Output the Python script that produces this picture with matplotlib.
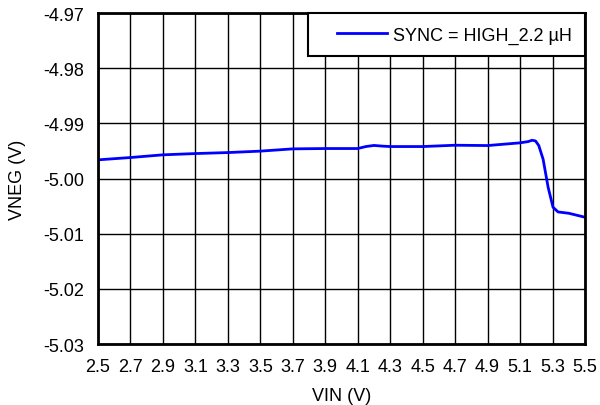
import matplotlib
matplotlib.use("Agg")
import matplotlib.pyplot as plt
from matplotlib.patches import Rectangle

vin = [2.5, 2.7, 2.9, 3.1, 3.3, 3.5, 3.7, 3.9, 4.1, 4.15, 4.2, 4.25, 4.3, 4.5, 4.7, 4.9, 5.1,
       5.15, 5.174, 5.195, 5.215, 5.242, 5.273, 5.303, 5.334, 5.4, 5.5]
vneg = [-4.99661, -4.99619, -4.99570, -4.99547, -4.99529, -4.99503, -4.99462, -4.99456,
        -4.99456, -4.99420, -4.99400, -4.99412, -4.99420, -4.99420, -4.99396, -4.99402, -4.99353,
        -4.99330, -4.99306, -4.99318, -4.99400, -4.99650, -5.00160, -5.00520, -5.00605,
        -5.00629, -5.00701]
series_label = "SYNC = HIGH_2.2 µH"
xticks = [2.5, 2.7, 2.9, 3.1, 3.3, 3.5, 3.7, 3.9, 4.1, 4.3, 4.5, 4.7, 4.9, 5.1, 5.3, 5.5]
yticks = [-5.03, -5.02, -5.01, -5.00, -4.99, -4.98, -4.97]

plt.rcParams['font.family'] = ['Liberation Sans', 'DejaVu Sans']

fig = plt.figure(figsize=(6.0, 4.06), dpi=100)
ax = fig.add_axes([0.1633, 0.150, 0.8117, 0.8155])
ax.plot(vin, vneg, color='#0000ff', linewidth=2, label=series_label)
ax.set_xlim(2.5, 5.5)
ax.set_ylim(-5.03, -4.97)
ax.set_xticks(xticks)
ax.set_xticklabels([f"{t:.1f}" for t in xticks])
ax.set_yticks(yticks)
ax.set_yticklabels([f"{t:.2f}" for t in yticks])
ax.tick_params(axis='x', length=0, labelsize=13, pad=10)
ax.tick_params(axis='y', length=0, labelsize=13, pad=10)
ax.grid(True, color='black', linewidth=1)
ax.set_axisbelow(True)
for s in ax.spines.values():
    s.set_linewidth(2)
ax.set_xlabel("VIN (V)", fontsize=13, labelpad=9)
ax.set_ylabel("VNEG (V)", fontsize=13, labelpad=12)

# legend frame (wider than its content, as in the reference)
box = Rectangle((0.431, 0.870), 0.569, 0.130, transform=ax.transAxes,
                facecolor='white', edgecolor='black', linewidth=1.5,
                zorder=4.5, clip_on=False)
ax.add_patch(box)
leg = ax.legend(loc='upper right', fontsize=13, frameon=False,
                borderaxespad=0, handlelength=2.8, borderpad=0.75, handletextpad=0.3)
leg.set_zorder(5)
fig.savefig("out.png", dpi=100)
